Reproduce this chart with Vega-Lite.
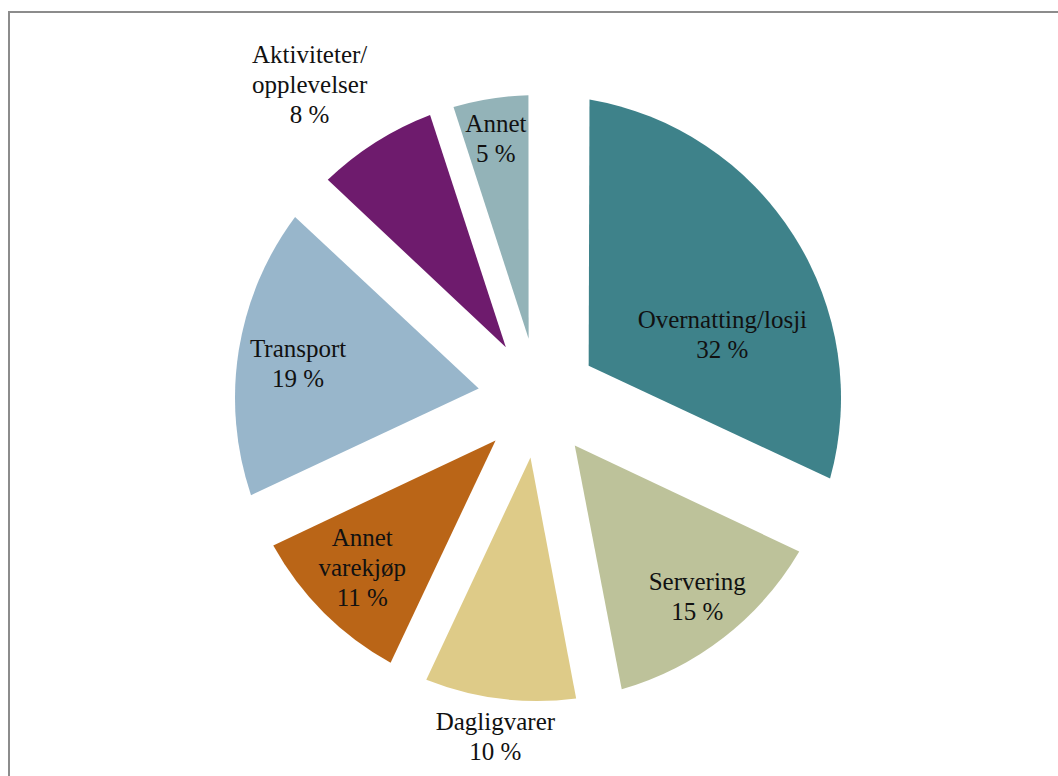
{
  "$schema": "https://vega.github.io/schema/vega-lite/v6.json",
  "autosize": "none",
  "width": 1058,
  "height": 772,
  "padding": {"left": 9, "top": 12, "right": 0, "bottom": 0},
  "background": "white",
  "config": {"view": {"stroke": null}},
  "layer": [
    {
      "data": {"values": [{"frame": 1}]},
      "mark": {"type": "rect", "fill": null, "fillOpacity": 0, "stroke": "#8c8c8c", "strokeWidth": 2},
      "encoding": {}
    },
    {
      "data": {"values": [
        {"i": 1, "cat": "Overnatting/losji", "value": 32, "label": "Overnatting/losji\n32 %"},
        {"i": 2, "cat": "Servering", "value": 15, "label": "Servering\n15 %"},
        {"i": 3, "cat": "Dagligvarer", "value": 10, "label": "Dagligvarer\n10 %"},
        {"i": 4, "cat": "Annet varekjøp", "value": 11, "label": "Annet\nvarekjøp\n11 %"},
        {"i": 5, "cat": "Transport", "value": 19, "label": "Transport\n19 %"},
        {"i": 6, "cat": "Aktiviteter/opplevelser", "value": 8, "label": "Aktiviteter/\nopplevelser\n8 %"},
        {"i": 7, "cat": "Annet", "value": 5, "label": "Annet\n5 %"}
      ]},
      "encoding": {
        "theta": {"field": "value", "type": "quantitative", "stack": true},
        "order": {"field": "i", "type": "quantitative"},
        "color": {"field": "cat", "type": "nominal", "legend": null,
          "scale": {"domain": ["Overnatting/losji", "Servering", "Dagligvarer", "Annet varekjøp", "Transport", "Aktiviteter/opplevelser", "Annet"],
                    "range": ["#3e828a", "#bdc29a", "#decb88", "#ba6517", "#98b6cb", "#6e1b6d", "#93b3b8"]}}
      },
      "layer": [
        {"mark": {"type": "arc", "radius": 303, "radius2": 60, "padAngle": 0.335},
         "encoding": {"opacity": {"condition": {"test": "datum.cat === 'Overnatting/losji'", "value": 1}, "value": 0}}},
        {"mark": {"type": "arc", "radius": 303, "radius2": 60, "padAngle": 0.1795},
         "encoding": {"opacity": {"condition": {"test": "datum.cat === 'Servering'", "value": 1}, "value": 0}}},
        {"mark": {"type": "arc", "radius": 303, "radius2": 60, "padAngle": 0.1221},
         "encoding": {"opacity": {"condition": {"test": "datum.cat === 'Dagligvarer'", "value": 1}, "value": 0}}},
        {"mark": {"type": "arc", "radius": 303, "radius2": 60, "padAngle": 0.1339},
         "encoding": {"opacity": {"condition": {"test": "datum.cat === 'Annet varekjøp'", "value": 1}, "value": 0}}},
        {"mark": {"type": "arc", "radius": 303, "radius2": 60, "padAngle": 0.2225},
         "encoding": {"opacity": {"condition": {"test": "datum.cat === 'Transport'", "value": 1}, "value": 0}}},
        {"mark": {"type": "arc", "radius": 303, "radius2": 60, "padAngle": 0.0982},
         "encoding": {"opacity": {"condition": {"test": "datum.cat === 'Aktiviteter/opplevelser'", "value": 1}, "value": 0}}},
        {"mark": {"type": "arc", "radius": 303, "radius2": 60, "padAngle": 0.0618},
         "encoding": {"opacity": {"condition": {"test": "datum.cat === 'Annet'", "value": 1}, "value": 0}}},
        {"mark": {"type": "text", "radius": 197, "dx": 18, "dy": 28, "font": "Liberation Serif", "fontSize": 25, "lineHeight": 30, "lineBreak": "\n", "baseline": "middle", "align": "center"},
         "encoding": {"color": {"value": "#111111"},
           "text": {"condition": {"test": "datum.cat === 'Overnatting/losji'", "field": "label"}, "value": ""}}},
        {"mark": {"type": "text", "radius": 250, "dx": 6, "dy": -14, "font": "Liberation Serif", "fontSize": 25, "lineHeight": 30, "lineBreak": "\n", "baseline": "middle", "align": "center"},
         "encoding": {"color": {"value": "#111111"},
           "text": {"condition": {"test": "datum.cat === 'Servering'", "field": "label"}, "value": ""}}},
        {"mark": {"type": "text", "radius": 340, "dx": 0, "dy": -13, "font": "Liberation Serif", "fontSize": 25, "lineHeight": 30, "lineBreak": "\n", "baseline": "middle", "align": "center"},
         "encoding": {"color": {"value": "#111111"},
           "text": {"condition": {"test": "datum.cat === 'Dagligvarer'", "field": "label"}, "value": ""}}},
        {"mark": {"type": "text", "radius": 250, "dx": 1, "dy": -37, "font": "Liberation Serif", "fontSize": 25, "lineHeight": 30, "lineBreak": "\n", "baseline": "middle", "align": "center"},
         "encoding": {"color": {"value": "#111111"},
           "text": {"condition": {"test": "datum.cat === 'Annet varekjøp'", "field": "label"}, "value": ""}}},
        {"mark": {"type": "text", "radius": 250, "dx": 7, "dy": -10, "font": "Liberation Serif", "fontSize": 25, "lineHeight": 30, "lineBreak": "\n", "baseline": "middle", "align": "center"},
         "encoding": {"color": {"value": "#111111"},
           "text": {"condition": {"test": "datum.cat === 'Transport'", "field": "label"}, "value": ""}}},
        {"mark": {"type": "text", "radius": 387, "dx": -21, "dy": -16, "font": "Liberation Serif", "fontSize": 25, "lineHeight": 30, "lineBreak": "\n", "baseline": "middle", "align": "center"},
         "encoding": {"color": {"value": "#111111"},
           "text": {"condition": {"test": "datum.cat === 'Aktiviteter/opplevelser'", "field": "label"}, "value": ""}}},
        {"mark": {"type": "text", "radius": 250, "dx": -3, "dy": -27, "font": "Liberation Serif", "fontSize": 25, "lineHeight": 30, "lineBreak": "\n", "baseline": "middle", "align": "center"},
         "encoding": {"color": {"value": "#111111"},
           "text": {"condition": {"test": "datum.cat === 'Annet'", "field": "label"}, "value": ""}}}
      ]
    }
  ]
}
